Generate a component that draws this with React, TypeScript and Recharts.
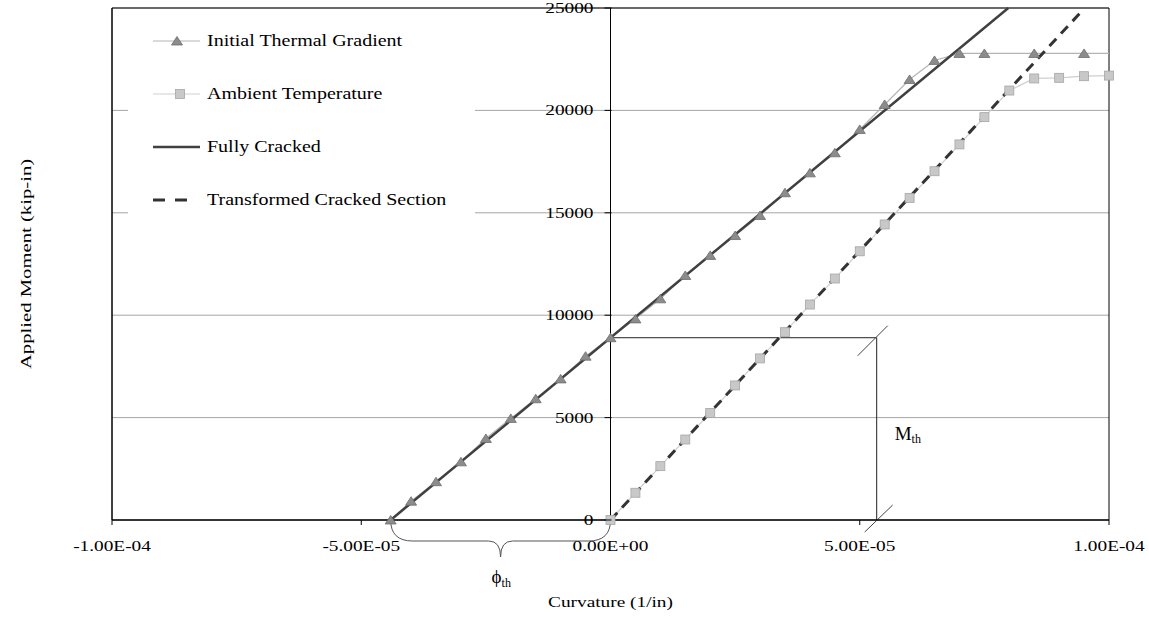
import React from 'react';
import {
  ComposedChart, Line, XAxis, YAxis, CartesianGrid, ReferenceLine, ReferenceArea, Legend,
} from 'recharts';

// Initial thermal gradient run (triangles)
const THERMAL_CURVATURE = [
  -4.41e-5, -4.0e-5, -3.5e-5, -3.0e-5, -2.5e-5, -2.0e-5, -1.5e-5, -1.0e-5, -5.0e-6, 0,
  5.0e-6, 1.0e-5, 1.5e-5, 2.0e-5, 2.5e-5, 3.0e-5, 3.5e-5, 4.0e-5, 4.5e-5, 5.0e-5,
  5.5e-5, 6.0e-5, 6.5e-5, 7.0e-5, 7.5e-5, 8.5e-5, 9.5e-5, 1.05e-4,
];
const THERMAL_MOMENT = [
  0, 920, 1870, 2840, 3980, 4960, 5920, 6890, 8000, 8900,
  9820, 10800, 11940, 12920, 13890, 14870, 15980, 16950, 17930, 19070,
  20290, 21510, 22440, 22780, 22780, 22780, 22780, 22780,
];

// Ambient temperature run (squares)
const AMBIENT_CURVATURE = [
  0, 5.0e-6, 1.0e-5, 1.5e-5, 2.0e-5, 2.5e-5, 3.0e-5, 3.5e-5, 4.0e-5, 4.5e-5, 5.0e-5,
  5.5e-5, 6.0e-5, 6.5e-5, 7.0e-5, 7.5e-5, 8.0e-5, 8.5e-5, 9.0e-5, 9.5e-5, 1.0e-4,
];
const AMBIENT_MOMENT = [
  0, 1330, 2630, 3930, 5230, 6570, 7890, 9170, 10520, 11790, 13120,
  14430, 15730, 17030, 18340, 19670, 20970, 21560, 21590, 21670, 21700,
];

// Straight-line section models
const FULLY_CRACKED_CURVATURE = [-4.41e-5, 7.98e-5];
const FULLY_CRACKED_MOMENT = [0, 25000];
const TRANSFORMED_CURVATURE = [0, 9.41e-5];
const TRANSFORMED_MOMENT = [0, 24730];

// Thermal offsets marked on the plot
const PHI_TH = -4.41e-5;
const M_TH = 8900;
const M_TH_MARK_X = 5.34e-5;

const X_TICKS = [-1e-4, -5e-5, 0, 5e-5, 1e-4];
const Y_TICKS = [0, 5000, 10000, 15000, 20000, 25000];

const NAMES = {
  thermal: 'Initial Thermal Gradient',
  ambient: 'Ambient Temperature',
  fully: 'Fully Cracked',
  transformed: 'Transformed Cracked Section',
};

const zip = (xs: number[], ms: number[]) => xs.map((x, i) => ({ x, m: ms[i] }));

const CHART_W = 1149;
const CHART_H = 618;
// axes get a 1px band each (a zero-sized axis is not drawn at all)
const MARGIN = { top: 8, right: 40, bottom: 97, left: 111 };
const PLOT_W = CHART_W - MARGIN.left - 1 - MARGIN.right;
// y axis crosses at curvature 0, i.e. the middle of the symmetric x domain
const ZERO_SHIFT = PLOT_W / 2;

const FONT = '"Liberation Serif", "Times New Roman", serif';
const SX = 1.38;
const TICK_FONT = 14;

const fmtSci = (v: number) => {
  const [mant, exp] = v.toExponential(2).split('e');
  const n = Number(exp);
  return `${mant}E${n < 0 ? '-' : '+'}${String(Math.abs(n)).padStart(2, '0')}`;
};

function XTick({ x, y, payload }: any) {
  return (
    <text transform={`translate(${x},${y + 10}) scale(${SX},1)`} textAnchor="middle"
      fontSize={TICK_FONT} fontFamily={FONT} fill="#000">
      {fmtSci(payload.value)}
    </text>
  );
}

function YTick({ x, y, payload }: any) {
  const ax = x + 1 + ZERO_SHIFT;
  return (
    <g>
      <line x1={ax - 7} x2={ax} y1={y} y2={y} stroke="#000" />
      <text transform={`translate(${ax - 18},${y + 5}) scale(${SX},1)`} textAnchor="end"
        fontSize={TICK_FONT} fontFamily={FONT} fill="#000">
        {payload.value}
      </text>
    </g>
  );
}

function XTitle({ viewBox }: any) {
  const { x, y, width } = viewBox;
  return (
    <text transform={`translate(${x + width / 2},${y + 87}) scale(${SX},1)`} textAnchor="middle"
      fontSize={TICK_FONT} fontFamily={FONT} fill="#000">
      Curvature (1/in)
    </text>
  );
}

function YTitle({ viewBox }: any) {
  const { x, y, height } = viewBox;
  return (
    <text transform={`translate(${x - 80},${y + height / 2}) rotate(-90) scale(${SX},1)`}
      textAnchor="middle" fontSize={15} fontFamily={FONT} fill="#000">
      Applied Moment (kip-in)
    </text>
  );
}

const triangleDot = ({ cx, cy, index }: any) => {
  if (cx == null || cy == null) return null;
  return (
    <path key={`t-${index}`} d={`M${cx},${cy - 4.5}L${cx + 5.5},${cy + 4}L${cx - 5.5},${cy + 4}Z`}
      fill="#8c8c8c" stroke="#6c6c6c" strokeWidth={0.8} />
  );
};

const squareDot = ({ cx, cy, index }: any) => {
  if (cx == null || cy == null) return null;
  return (
    <rect key={`s-${index}`} x={cx - 4.5} y={cy - 4.5} width={9} height={9}
      fill="#c8c8c8" stroke="#a6a6a6" strokeWidth={0.8} />
  );
};

// curly brace under the axis spanning the thermal curvature offset
const PhiBrace = ({ x1, y1, x2 }: any) => {
  const mid = (x1 + x2) / 2;
  const d = [
    `M${x1},${y1}`,
    `Q${x1},${y1 + 21} ${x1 + 22},${y1 + 21}`,
    `L${mid - 12},${y1 + 21}`,
    `Q${mid},${y1 + 21} ${mid},${y1 + 37}`,
    `Q${mid},${y1 + 21} ${mid + 12},${y1 + 21}`,
    `L${x2 - 22},${y1 + 21}`,
    `Q${x2},${y1 + 21} ${x2},${y1}`,
  ].join(' ');
  return (
    <g>
      <path d={d} fill="none" stroke="#555" strokeWidth={1} />
      <text x={mid - 9} y={y1 + 63} fontFamily={FONT} fontSize={19} fill="#000">
        ϕ<tspan fontSize={12} dy={4}>th</tspan>
      </text>
    </g>
  );
};

// vertical leg of the M_th bracket with break marks at both ends
const MthMark = ({ x1, y1, x2, y2 }: any) => (
  <g>
    <line x1={x1} y1={y1} x2={x2} y2={y2} stroke="#222" strokeWidth={1} />
    <line x1={x2 - 19} y1={y2 + 18} x2={x2 + 11} y2={y2 - 12} stroke="#444" strokeWidth={1} />
    <line x1={x1 - 12} y1={y1 + 12} x2={x1 + 16} y2={y1 - 15} stroke="#444" strokeWidth={1} />
    <text x={x1 + 18} y={y1 - 80} fontFamily={FONT} fontSize={19} fill="#000">
      M<tspan fontSize={12} dy={3}>th</tspan>
    </text>
  </g>
);

function LegendIcon({ name }: { name: string }) {
  if (name === NAMES.thermal) {
    return (
      <svg width={50} height={20}>
        <line x1={0} x2={47} y1={10} y2={10} stroke="#b4b4b4" />
        <path d="M24,5.5L29.5,14L18.5,14Z" fill="#8c8c8c" stroke="#6c6c6c" strokeWidth={0.8} />
      </svg>
    );
  }
  if (name === NAMES.ambient) {
    return (
      <svg width={50} height={20}>
        <line x1={0} x2={47} y1={10} y2={10} stroke="#cfcfcf" />
        <rect x={22.5} y={5.5} width={9} height={9} fill="#c8c8c8" stroke="#a6a6a6" strokeWidth={0.8} />
      </svg>
    );
  }
  if (name === NAMES.fully) {
    return (
      <svg width={50} height={20}>
        <line x1={0} x2={47} y1={10} y2={10} stroke="#404040" strokeWidth={2.5} />
      </svg>
    );
  }
  return (
    <svg width={50} height={20}>
      <line x1={0} x2={36} y1={10} y2={10} stroke="#333" strokeWidth={3} strokeDasharray="12 10" />
    </svg>
  );
}

const renderLegend = () => (
  <div style={{ background: '#fff', width: '100%', height: '100%' }}>
    {[NAMES.thermal, NAMES.ambient, NAMES.fully, NAMES.transformed].map((name) => (
      <div key={name} style={{ height: 53, display: 'flex', alignItems: 'center', paddingLeft: 25 }}>
        <LegendIcon name={name} />
        <span style={{
          marginLeft: 4, fontFamily: FONT, fontSize: 16, color: '#000', whiteSpace: 'nowrap',
          display: 'inline-block', transform: 'scaleX(1.25)', transformOrigin: 'left center',
        }}>
          {name}
        </span>
      </div>
    ))}
  </div>
);

export default function App() {
  return (
    <div style={{ position: 'absolute', left: 0, top: 0, width: CHART_W, height: CHART_H, background: '#fff' }}>
      <ComposedChart width={CHART_W} height={CHART_H} margin={MARGIN}>
        <CartesianGrid vertical={false} stroke="#a6a6a6" />
        <XAxis type="number" dataKey="x" domain={[-1e-4, 1e-4]} ticks={X_TICKS} interval={0}
          height={1} tick={<XTick />} tickSize={5} tickMargin={16} stroke="#000"
          label={<XTitle />} />
        {/* same scale, but clips the plateau that runs past the right edge */}
        <XAxis xAxisId="clip" type="number" dataKey="x" domain={[-1e-4, 1e-4]} allowDataOverflow hide />
        <YAxis type="number" domain={[0, 25000]} ticks={Y_TICKS} interval={0} width={1}
          tickLine={false} tickSize={0} tickMargin={0} tick={<YTick />} stroke="#000"
          label={<YTitle />} />
        <ReferenceArea x1={-1e-4} x2={1e-4} y1={0} y2={25000} fill="none" stroke="#000" />
        <ReferenceLine x={0} stroke="#000" />
        <ReferenceLine segment={[{ x: 0, y: M_TH }, { x: M_TH_MARK_X, y: M_TH }]} stroke="#222" />
        <ReferenceLine segment={[{ x: M_TH_MARK_X, y: 0 }, { x: M_TH_MARK_X, y: M_TH }]} shape={MthMark} />
        <ReferenceLine segment={[{ x: PHI_TH, y: 0 }, { x: 0, y: 0 }]} shape={PhiBrace} />

        <Line xAxisId="clip" data={zip(THERMAL_CURVATURE, THERMAL_MOMENT)} dataKey="m" name={NAMES.thermal}
          type="linear" stroke="#b4b4b4" strokeWidth={1.2} dot={triangleDot} activeDot={false}
          isAnimationActive={false} />
        <Line data={zip(AMBIENT_CURVATURE, AMBIENT_MOMENT)} dataKey="m" name={NAMES.ambient}
          type="linear" stroke="#cfcfcf" strokeWidth={1.2} dot={squareDot} activeDot={false}
          isAnimationActive={false} />
        <Line data={zip(FULLY_CRACKED_CURVATURE, FULLY_CRACKED_MOMENT)} dataKey="m" name={NAMES.fully}
          type="linear" stroke="#404040" strokeWidth={2.5} dot={false} activeDot={false}
          isAnimationActive={false} />
        <Line data={zip(TRANSFORMED_CURVATURE, TRANSFORMED_MOMENT)} dataKey="m" name={NAMES.transformed}
          type="linear" stroke="#333" strokeWidth={3} strokeDasharray="10 7" dot={false} activeDot={false}
          isAnimationActive={false} />

        <Legend layout="vertical" align="center" verticalAlign="middle" content={renderLegend}
          wrapperStyle={{ left: 128, top: 14, width: 347, height: 212 }} />
      </ComposedChart>
    </div>
  );
}
